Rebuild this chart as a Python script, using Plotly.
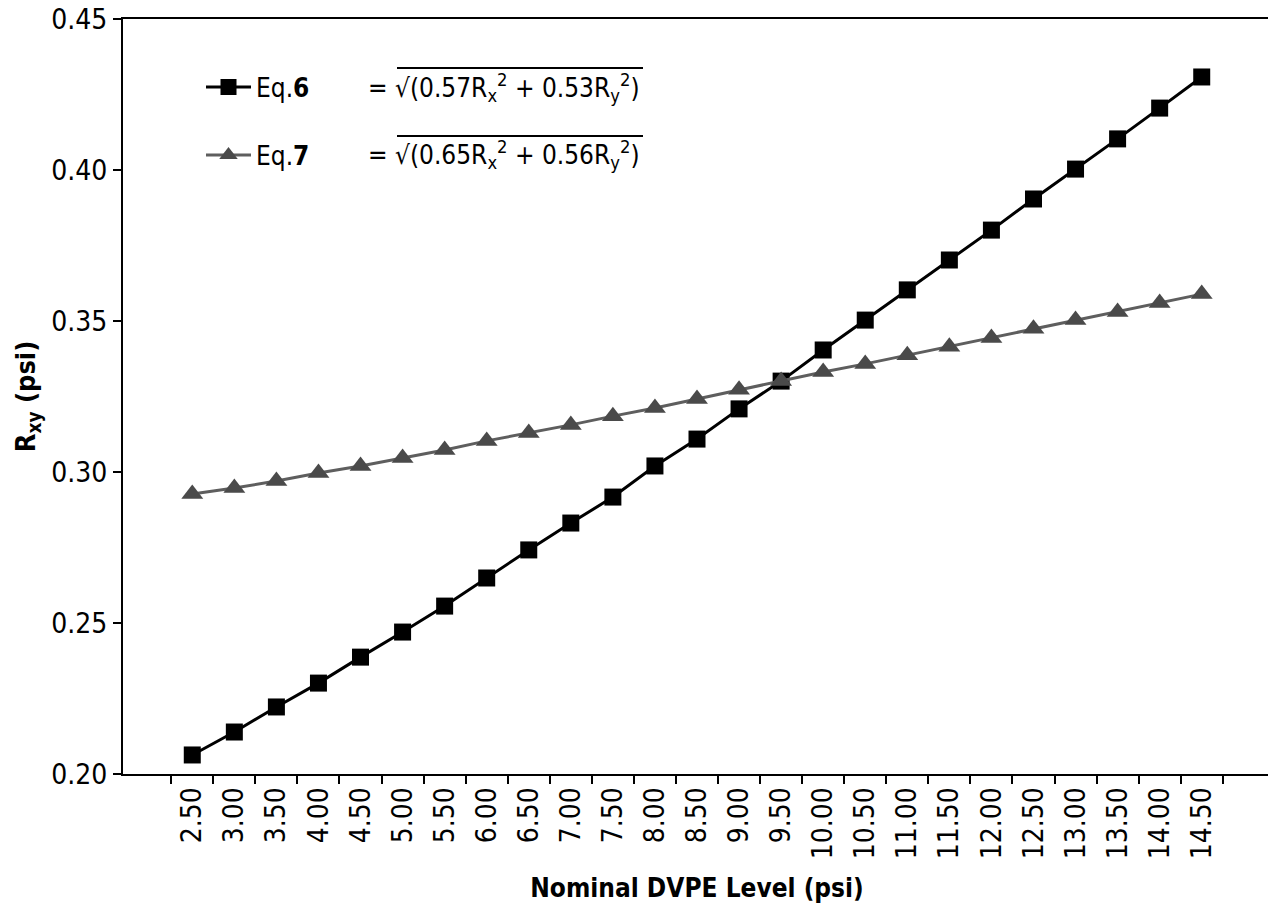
import plotly.graph_objects as go

# ---- data ----
dvpe_levels = ["2.50", "3.00", "3.50", "4.00", "4.50", "5.00", "5.50", "6.00", "6.50",
               "7.00", "7.50", "8.00", "8.50", "9.00", "9.50", "10.00", "10.50", "11.00",
               "11.50", "12.00", "12.50", "13.00", "13.50", "14.00", "14.50"]
eq6_values = [0.2063, 0.2139, 0.2222, 0.2301, 0.2387, 0.2470, 0.2556, 0.2649, 0.2742,
              0.2831, 0.2917, 0.3020, 0.3109, 0.3209, 0.3301, 0.3404, 0.3503, 0.3603,
              0.3702, 0.3801, 0.3904, 0.4003, 0.4103, 0.4205, 0.4308]
eq7_values = [0.2927, 0.2947, 0.2970, 0.2997, 0.3020, 0.3046, 0.3073, 0.3103, 0.3129,
              0.3156, 0.3185, 0.3212, 0.3242, 0.3272, 0.3301, 0.3331, 0.3358, 0.3387,
              0.3415, 0.3444, 0.3474, 0.3503, 0.3530, 0.3560, 0.3589]
y_ticks = [0.20, 0.25, 0.30, 0.35, 0.40, 0.45]

FONT = "DejaVu Sans Condensed, DejaVu Sans, sans-serif"

fig = go.Figure()
fig.add_trace(go.Scatter(
    x=dvpe_levels, y=eq6_values, mode="lines+markers", name="Eq.<b>6</b>",
    line=dict(color="#000000", width=3),
    marker=dict(symbol="square", size=17, color="#000000"),
    legend="legend", showlegend=True,
))
fig.add_trace(go.Scatter(
    x=dvpe_levels, y=eq7_values, mode="lines+markers", name="Eq.<b>7</b>",
    line=dict(color="#5e5e5e", width=3),
    marker=dict(symbol="triangle-up", size=19, color="#4a4a4a"),
    legend="legend2", showlegend=True,
))

W, H = 1276, 908
OFF = 8  # page body margin
L, T = 123 - OFF, 19 - OFF
R = W - (1271 - OFF)
B = H - (774 - OFF)
pw, ph = W - L - R, H - T - B


def px(sx):
    return (sx - OFF - L) / pw


def py(sy):
    return (H - B - (sy - OFF)) / ph


leg_common = dict(xanchor="left", yanchor="middle", bgcolor="rgba(0,0,0,0)",
                  font=dict(size=26, family=FONT), itemwidth=45)

fig.update_layout(
    width=W, height=H,
    margin=dict(l=L, r=R, t=T, b=B),
    paper_bgcolor="white", plot_bgcolor="white",
    font=dict(family=FONT, size=28, color="#000000"),
    legend=dict(x=px(201), y=py(87), **leg_common),
    legend2=dict(x=px(201), y=py(155), **leg_common),
    xaxis=dict(
        type="category", tickangle=-90, tickson="boundaries",
        ticks="outside", ticklen=8, tickwidth=2, tickcolor="#000",
        showline=True, linecolor="#000", linewidth=2, mirror=True,
        showgrid=False, tickfont=dict(size=28), automargin=False,
        ticklabeloverflow="allow",
        title=dict(text="<b>Nominal DVPE Level (psi)</b>", font=dict(size=26), standoff=21),
    ),
    yaxis=dict(
        range=[0.20, 0.45], tickvals=y_ticks, tickformat=".2f",
        ticks="outside", ticklen=8, tickwidth=2, tickcolor="#000",
        showline=True, linecolor="#000", linewidth=2, mirror=True,
        showgrid=False, zeroline=False, tickfont=dict(size=28), automargin=False,
        ticklabeloverflow="allow",
        title=dict(text="<b>R<sub>xy</sub> (psi)</b>", font=dict(size=27), standoff=8),
    ),
)

formulas = [
    ("= √(0.57R<sub>x</sub><sup>2</sup> + 0.53R<sub>y</sub><sup>2</sup>)", 87, 68),
    ("= √(0.65R<sub>x</sub><sup>2</sup> + 0.56R<sub>y</sub><sup>2</sup>)", 155, 136),
]
for txt, yc, yo in formulas:
    fig.add_annotation(x=px(366), y=py(yc), xref="paper", yref="paper",
                       xanchor="left", yanchor="middle", showarrow=False,
                       text=txt, font=dict(size=26, family=FONT))
    fig.add_shape(type="line", xref="paper", yref="paper",
                  x0=px(397), x1=px(643), y0=py(yo), y1=py(yo),
                  line=dict(color="#000", width=2))

fig.write_html("out.html")
